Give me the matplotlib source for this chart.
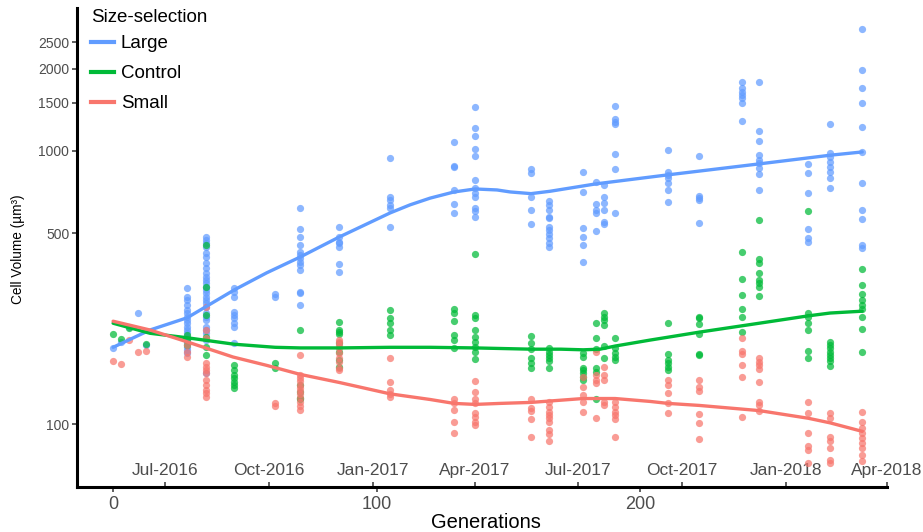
import numpy as np
import matplotlib.pyplot as plt
from matplotlib.lines import Line2D

plt.rcParams['font.family'] = ['Liberation Sans', 'DejaVu Sans']

# generation of each sampling time point
gens = [0, 3, 6, 9.5, 12.5, 28, 35.3, 46, 61.5, 71, 85.8, 105, 129.4, 137.4,
        158.6, 165.5, 178.4, 183.3, 186.3, 190.5, 210.6, 222.4, 238.7, 245.2,
        263.8, 272.1, 284.3]

# cell volumes (um^3) per time point
large = [
    [190], [200], [227], [255], [195],
    [315, 292, 285, 273, 262, 255, 247, 240, 234, 227, 221, 215, 208, 203, 198, 191, 187, 182],
    [484, 472, 461, 445, 423, 409, 389, 373, 358, 346, 337, 329, 318, 310, 302, 292, 285,
     278, 268, 255, 247, 240, 227, 221, 215, 203, 154],
    [315, 305, 292, 257, 251, 245, 234, 227, 198],
    [300, 292],
    [619, 518, 484, 453, 427, 416, 406, 392, 382, 367, 305, 302, 273],
    [527, 484, 464, 461, 445, 386, 361],
    [943, 679, 662, 635, 619, 527],
    [1080, 882, 874, 720, 640, 593],
    [1451, 1215, 1136, 1018, 960, 784, 732, 702, 679, 619, 603, 574],
    [860, 831, 679, 608, 541],
    [656, 635, 608, 574, 569, 527, 514, 497, 480, 461, 445],
    [838, 708, 523, 484, 453, 392],
    [770, 640, 608, 593, 510],
    [751, 679, 645, 608, 550, 541],
    [1464, 1311, 1278, 1257, 976, 860, 593],
    [1009, 838, 817, 797, 764, 720, 651],
    [960, 685, 673, 662, 545],
    [1792, 1703, 1647, 1605, 1565, 1501, 1289],
    [1792, 1185, 1089, 968, 928, 905, 867, 824, 720],
    [897, 831, 702, 518, 480, 464],
    [1257, 984, 951, 912, 874, 838, 797, 732],
    [2802, 1983, 1703, 1501, 1225, 992, 764, 608, 564, 453, 442],
]

control = [
    [214], [205], [225], [], [196],
    [212, 203, 195],
    [453, 318, 251, 208, 191, 179],
    [165, 158, 151, 147, 143, 139, 136],
    [167, 160],
    [221, 139, 131, 125, 123],
    [237, 221, 217, 214, 198, 184, 172, 162],
    [262, 245, 235, 221, 212],
    [264, 255, 239, 212, 203, 190],
    [420, 251, 245, 221, 208, 200, 192, 184, 173],
    [210, 198, 188, 175, 167, 160],
    [190, 184, 179, 175, 170, 160],
    [182, 176, 160, 158, 154, 149, 145],
    [235, 207, 188, 160, 155, 123],
    [255, 247, 240, 231, 193, 175],
    [207, 190, 182, 176, 172],
    [235, 181, 172, 167, 162, 158],
    [247, 245, 233, 214, 181, 179],
    [427, 340, 297, 264, 247, 217],
    [559, 402, 389, 358, 337, 329, 318, 295],
    [603, 255, 247, 235, 221, 185, 175],
    [200, 195, 190, 184, 179, 175, 170, 163],
    [370, 323, 300, 285, 273, 264, 247, 223, 184],
]

small = [
    [170], [166], [203], [184], [185],
    [176, 184, 195],
    [268, 221, 207, 167, 162, 158, 154, 145, 139, 133, 130, 126],
    [],
    [119, 116],
    [179, 151, 147, 144, 139, 136, 132, 129, 125, 120, 116, 113],
    [203, 200, 195, 190, 182, 175, 169, 160, 158],
    [175, 143, 133, 129, 126],
    [123, 119, 113, 102, 93],
    [144, 131, 123, 119, 110, 106, 102, 99],
    [123, 114, 112, 104, 90],
    [120, 115, 111, 108, 105, 102, 95, 92, 87],
    [149, 137, 128, 120, 111],
    [184, 151, 145, 141, 105],
    [162, 151, 145, 120, 117],
    [120, 115, 111, 108, 104, 90],
    [145, 139, 130, 119, 110],
    [145, 137, 132, 109, 101, 88],
    [207, 185, 181, 165, 149, 106],
    [175, 169, 165, 159, 143, 120, 117, 112],
    [120, 110, 93, 83, 80, 72],
    [110, 105, 90, 87, 82, 74, 72],
    [111, 102, 97, 93, 89, 85, 82, 77, 73],
]

# smoothed trends
large_fit_gen = [0, 14, 28.1, 46, 58.3, 71, 78.6, 85.8, 105.1, 112.7, 120.3, 129.4,
                 137.4, 145.7, 150.7, 158.6, 165.8, 183.3, 210.2, 245.2, 272.1, 284.3]
large_fit = [191, 221, 245, 310, 358, 409, 446, 484, 593, 635, 672, 708,
             726, 720, 708, 698, 712, 758, 817, 897, 965, 992]
control_fit_gen = [0, 14, 28.1, 46, 61.5, 71, 85.8, 105.1, 120.3, 137.4, 158.6, 169.9,
                   178.4, 184.8, 190.5, 203.8, 210.6, 222.4, 238.7, 245.2, 263.8, 272.1, 284.3]
control_fit = [234, 215, 207, 196, 191, 190, 190, 191, 191, 190, 188, 188, 187, 188,
               193, 203, 208, 217, 229, 234, 249, 255, 259]
small_fit_gen = [0, 14, 28.1, 45.5, 58.3, 71, 85.8, 105.1, 120.3, 129.4, 137.4, 146.9,
                 158.6, 178.4, 190.5, 203.8, 210.6, 222.4, 245.2, 263.8, 272.1, 284.3]
small_fit = [238, 221, 200, 176, 164, 152, 142, 129, 123, 119, 118, 119,
             120, 124, 124, 121, 119, 117, 112, 105, 101, 94]

date_gen = [19.7, 59.2, 98.6, 137.4, 176.5, 215.9, 255.4, 293.7]
date_labels = ['Jul-2016', 'Oct-2016', 'Jan-2017', 'Apr-2017', 'Jul-2017',
               'Oct-2017', 'Jan-2018', 'Apr-2018']

groups = ['Large', 'Control', 'Small']
colors = {'Large': '#619CFF', 'Control': '#00BA38', 'Small': '#F8766D'}
points = {'Large': large, 'Control': control, 'Small': small}
fits = {'Large': (large_fit_gen, large_fit),
        'Control': (control_fit_gen, control_fit),
        'Small': (small_fit_gen, small_fit)}

fig = plt.figure(figsize=(9.23, 5.32), dpi=100)
ax = fig.add_axes([77 / 923, 1 - 487 / 532, 810 / 923, 479 / 532])

for g in groups:
    xs, ys = [], []
    for gen, vals in zip(gens, points[g]):
        xs += [gen] * len(vals)
        ys += vals
    ax.scatter(xs, ys, s=27, color=colors[g], alpha=0.72, linewidths=0, zorder=2)

for g in groups:
    fx, fy = fits[g]
    ax.plot(fx, fy, color=colors[g], lw=2.4, zorder=3,
            solid_capstyle='round', solid_joinstyle='round')

ax.set_yscale('log')
ax.set_ylim(58.8, 3340)
ax.set_xlim(-13.7, 293.7)
ax.set_yticks([100, 500, 1000, 1500, 2000, 2500])
ax.set_yticklabels(['100', '500', '1000', '1500', '2000', '2500'])
ax.yaxis.set_minor_locator(plt.NullLocator())
ax.set_xticks([0, 100, 200])
ax.set_xticks(date_gen, labels=date_labels, minor=True)

for side in ['top', 'right']:
    ax.spines[side].set_visible(False)
for side in ['left', 'bottom']:
    ax.spines[side].set_linewidth(2.2)
    ax.spines[side].set_color('black')

ax.tick_params(axis='y', which='major', length=3.5, width=1.1, color='#333333',
               labelsize=10, labelcolor='#4d4d4d', pad=2)
ax.tick_params(axis='x', which='major', length=3.5, width=1.1, color='#333333',
               labelsize=13, labelcolor='#4d4d4d', pad=3)
ax.tick_params(axis='x', which='minor', direction='in', length=3.5, width=1.1,
               color='#333333', labelsize=12.5, labelcolor='#4d4d4d', pad=-17)

ax.set_ylabel('Cell Volume (µm³)', fontsize=9.8)
ax.yaxis.set_label_coords(-0.064, 0.497)
ax.set_xlabel('Generations', fontsize=14.5)
ax.xaxis.set_label_coords(0.505, -0.055)

handles = [Line2D([], [], color=colors[g], lw=3) for g in groups]
leg = ax.legend(handles, groups, title='Size-selection', loc='upper left',
                bbox_to_anchor=(91 / 923, 1 - 9 / 532), bbox_transform=fig.transFigure,
                frameon=False, fontsize=13.5, title_fontsize=13.5, handlelength=1.2,
                handletextpad=0.4, labelspacing=0.69, borderpad=0, borderaxespad=0,
                alignment='left')
leg._legend_box.sep = 6.5  # tighter gap under the legend title

fig.savefig('out.png', dpi=100)
